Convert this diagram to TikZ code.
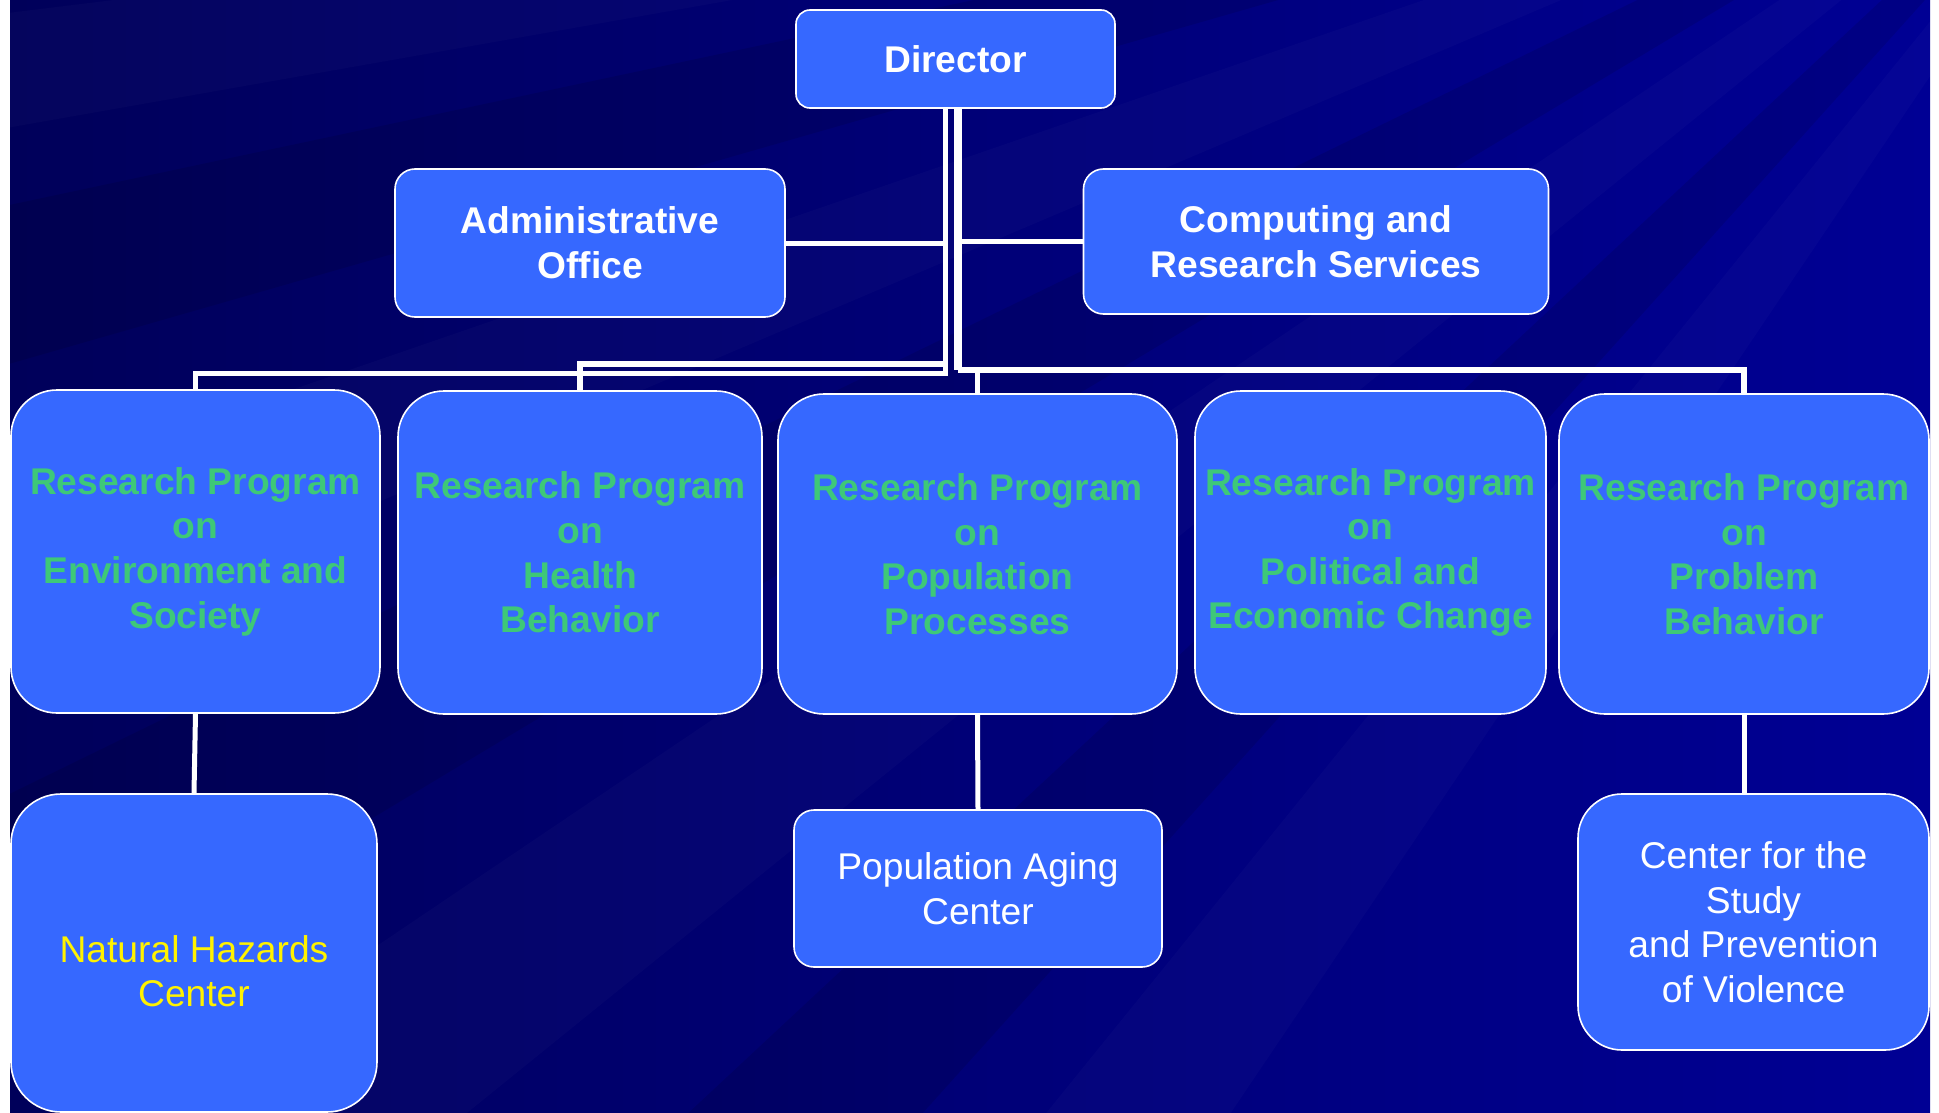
\documentclass[tikz,border=0pt]{standalone}
\usepackage{fontspec}
\setmainfont{Liberation Sans}

\definecolor{slide}{HTML}{000094}
\definecolor{slidedark}{HTML}{00005A}
\definecolor{boxblue}{HTML}{3668FF}
\definecolor{progreen}{HTML}{3EC878}

\begin{document}
\begin{tikzpicture}[x=0.5pt, y=-0.5pt, line width=1pt,
    box/.style={draw=white, line width=0.8pt, fill=boxblue, rounded corners=#1,
      align=center, inner sep=0pt, text=white,
      font=\fontsize{18.6}{22.3}\selectfont},
    box/.default=10pt,
    headbox/.style={box=#1, font=\fontsize{18.6}{22.3}\selectfont\bfseries},
    headbox/.default=10pt,
    progbox/.style={box=23pt, text=progreen, font=\fontsize{18.6}{22.3}\selectfont\bfseries},
    wire/.style={draw=white, line width=2.5pt}]
    \useasboundingbox (0,0) rectangle (1939,1113);

    % draw slide background
    \fill[left color=slidedark, right color=slide] (10,0) rectangle (1930,1113);
    \begin{scope}
      \clip (10,0) rectangle (1930,1113);
      \coordinate (src) at (2150,-250);
      \foreach \a/\b in {124/129, 141/146, 157/161, 170/173}
        \fill[white, opacity=0.02] (src) -- ++(\a:3200) arc[start angle=\a, end angle=\b, radius=3200] -- cycle;
      \foreach \a/\b in {132/137, 149/154, 164/168}
        \fill[black, opacity=0.1] (src) -- ++(\a:3200) arc[start angle=\a, end angle=\b, radius=3200] -- cycle;
    \end{scope}

    % draw top boxes
    \node[headbox=7pt, minimum width=159.5pt, minimum height=49pt] (director) at (955.5,59) {Director};
    \node[headbox, minimum width=195pt, minimum height=74pt] (admin) at (590,243) {Administrative\\Office};
    \node[headbox, minimum width=232.5pt, minimum height=72.5pt] (computing) at (1316,241.5) {Computing and\\Research Services};

    % draw research programs
    \node[progbox, minimum width=184.5pt, minimum height=161.5pt] (env) at (195.5,551.5)
      {Research Program\\on\\Environment and\\Society};
    \node[progbox, minimum width=182pt, minimum height=161.5pt] (health) at (580,552.5)
      {Research Program\\on\\Health\\Behavior};
    \node[progbox, minimum width=199.5pt, minimum height=160pt] (pop) at (977.5,554)
      {Research Program\\on\\Population\\Processes};
    \node[progbox, minimum width=175.5pt, minimum height=161.5pt] (polit) at (1370.5,552.5)
      {Research Program\\on\\Political and\\Economic Change};
    \node[progbox, minimum width=185pt, minimum height=160pt] (probl) at (1744,554)
      {Research Program\\on\\Problem\\Behavior};

    % draw centers
    \node[box=25pt, minimum width=183pt, minimum height=159pt] (hazards) at (194,953) {};
    \node[text=yellow, align=center, font=\fontsize{18.6}{22.3}\selectfont] (hazardstext) at (194,971)
      {Natural Hazards\\Center};
    \node[box, minimum width=184pt, minimum height=78.5pt] (aging) at (978,888.5)
      {Population Aging\\Center};
    \node[box=22pt, minimum width=175.5pt, minimum height=128pt] (violence) at (1753.5,922)
      {Center for the\\Study\\and Prevention\\of Violence};

    % draw left trunk
    \coordinate (busA) at (945,373);
    \coordinate (busH) at (945,364);
    \draw[wire] (director.south -| busA) -- (busA) -| (env.north);
    \draw[wire, line width=3pt] (busH) -| (health.north);
    \draw[wire] (admin.east) -- (admin.east -| busA);

    % draw right trunk
    \coordinate (busB) at (958,370);
    \draw[wire, line width=4pt] (director.south -| busB) -- (busB);
    \draw[wire, line width=3pt] (busB) -| (probl.north);
    \draw[wire] (computing.west) -- (computing.west -| busB);
    \draw[wire] (pop.north) -- (pop.north |- busB);

    % draw links to centers
    \draw[wire] (env.south) -- (hazards.north);
    \draw[wire] (pop.south) -- (aging.north);
    \draw[wire] (probl.south) -- (probl.south |- violence.north);
\end{tikzpicture}
\end{document}
